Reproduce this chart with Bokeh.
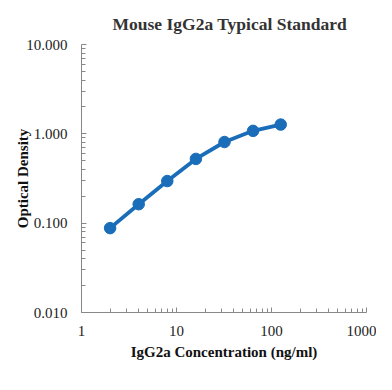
from bokeh.plotting import figure
from bokeh.models import PrintfTickFormatter, FixedTicker
from bokeh.embed import file_html
from bokeh.resources import INLINE

conc = [2, 4, 8, 16, 32, 64, 125]
od = [0.088, 0.163, 0.296, 0.524, 0.81, 1.08, 1.27]
x_ticks = [1, 10, 100, 1000]
y_ticks = [0.01, 0.1, 1, 10]

SERIF = "Liberation Serif"
BLUE = "#1a6db8"

p = figure(width=376, height=374, x_axis_type="log", y_axis_type="log",
           x_range=(1, 1000), y_range=(0.01, 10),
           output_backend="svg", toolbar_location=None,
           title="Mouse IgG2a Typical Standard",
           min_border_left=81, min_border_right=10, min_border_top=43, min_border_bottom=63)
p.frame_width = 285
p.frame_height = 268

p.line(conc, od, line_color=BLUE, line_width=3.8)
p.scatter(conc, od, size=11.5, fill_color=BLUE, line_color=BLUE)

p.title.text_font = SERIF
p.title.text_font_size = "17.5px"
p.title.text_font_style = "bold"
p.title.text_color = "#333333"
p.title.align = "left"
p.title.offset = 31
p.title.standoff = 22

p.xgrid.visible = False
p.ygrid.visible = False
p.outline_line_color = None

p.xaxis.axis_label = "IgG2a Concentration (ng/ml)"
p.yaxis.axis_label = "Optical Density"
p.xaxis.ticker = FixedTicker(ticks=x_ticks, minor_ticks=[a * b for a in [1, 10, 100] for b in range(2, 10)])
p.yaxis.ticker = FixedTicker(ticks=y_ticks, minor_ticks=[a * b for a in [0.01, 0.1, 1] for b in range(2, 10)])
p.xaxis.formatter = PrintfTickFormatter(format="%d")
p.yaxis.formatter = PrintfTickFormatter(format="%.3f")

for ax in [p.xaxis[0], p.yaxis[0]]:
    ax.axis_line_color = "#888888"
    ax.major_tick_line_color = "#888888"
    ax.minor_tick_line_color = "#888888"
    ax.major_tick_in = 5
    ax.major_tick_out = 0
    ax.minor_tick_in = 4
    ax.minor_tick_out = 0
    ax.major_label_text_font = SERIF
    ax.major_label_text_font_size = "15px"
    ax.major_label_text_color = "#222222"
    ax.axis_label_text_font = SERIF
    ax.axis_label_text_font_size = "15px"
    ax.axis_label_text_font_style = "bold"
    ax.axis_label_text_color = "#111111"

p.yaxis.major_label_standoff = 14
p.xaxis.major_label_standoff = 13
p.yaxis.axis_label_standoff = -8
p.xaxis.axis_label_standoff = 5

open("out.html", "w").write(file_html(p, INLINE))
